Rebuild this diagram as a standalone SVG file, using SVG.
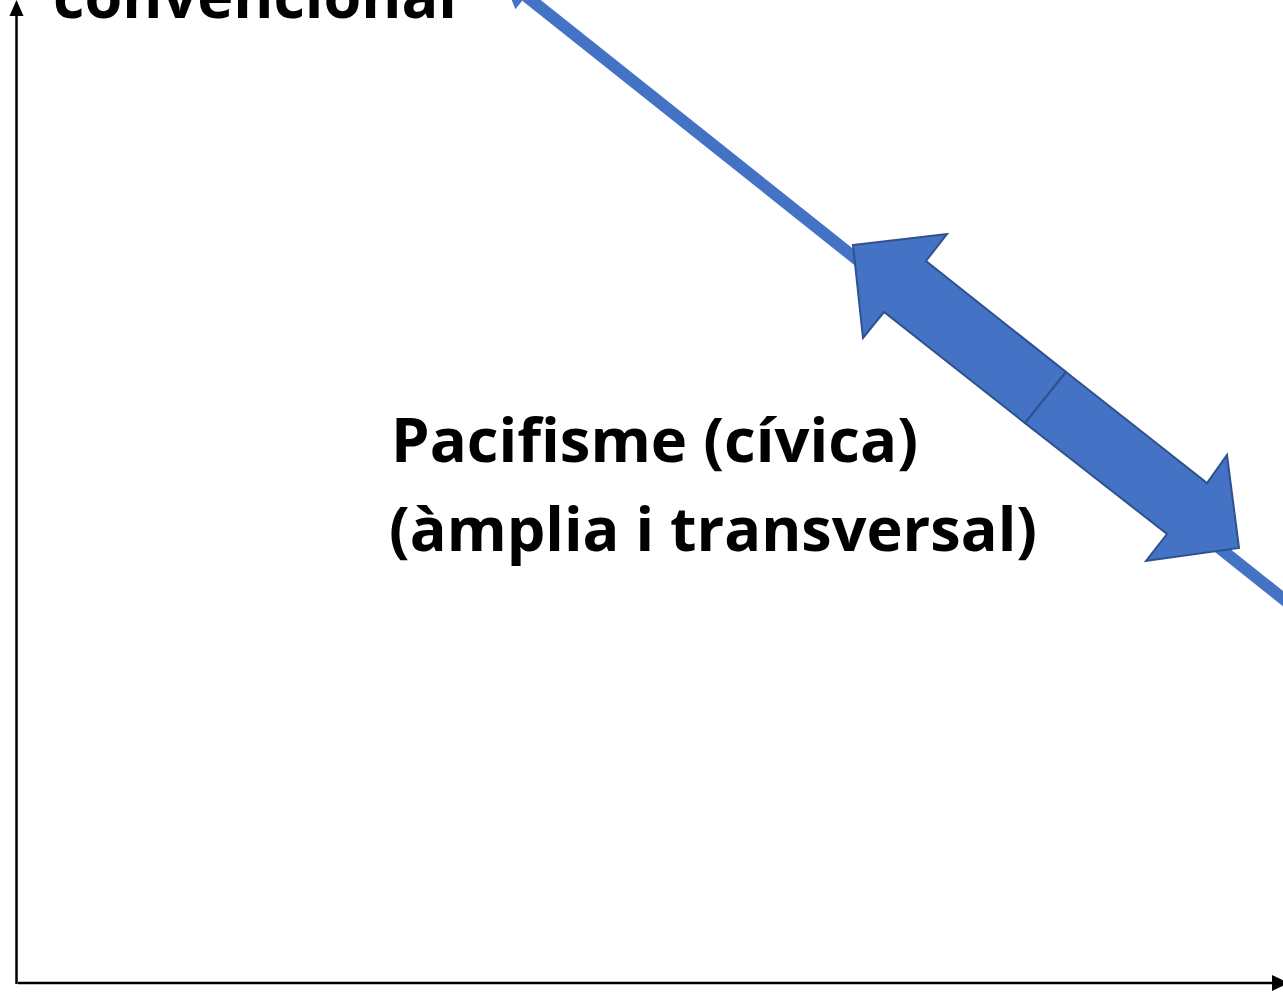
<svg xmlns="http://www.w3.org/2000/svg" width="1283" height="993" viewBox="0 0 1283 993">
<style>
.axis{stroke:#000;stroke-width:2.5;fill:none}
.head{fill:#000}
.blue{fill:#4472C4;stroke:#2F528F;stroke-width:2;stroke-linejoin:miter}
.thin{stroke:#4472C4;stroke-width:12;fill:none}
.lbl{font-family:"Open Sans","Liberation Sans",sans-serif;font-weight:700;font-size:61px;fill:#000}
</style>
<rect width="1283" height="993" fill="#fff"/>
<g id="connectors">
<g id="y-axis">
<line class="axis" x1="16.5" y1="984" x2="16.5" y2="14"/>
<polygon class="head" points="16.5,0 9.5,16 23.5,16"/>
</g>
<g id="x-axis">
<line class="axis" x1="18" y1="983" x2="1274" y2="983"/>
<polygon class="head" points="1289,983 1272,975 1272,991"/>
</g>
<g id="diagonal">
<line class="thin" x1="526" y1="-4" x2="1330" y2="636"/>
<polygon fill="#4472C4" points="502.6,-22.8 536.6,-17.3 515.4,9.3"/>
</g>
</g>
<g id="double-arrow">
<polygon class="blue" points="853,245 947,234 926,261 1066,372 1025,423 884,312 863,338"/>
<polygon class="blue" points="1066,372 1207,483 1227,455 1239,548 1146,561 1167,534 1025,423"/>
</g>
<g id="label-top">
<text class="lbl" x="53" y="18" textLength="404" lengthAdjust="spacingAndGlyphs">convencional</text>
</g>
<g id="label-center">
<text class="lbl" x="391" y="462" textLength="527" lengthAdjust="spacingAndGlyphs">Pacifisme (cívica)</text>
<text class="lbl" x="389" y="551" textLength="648" lengthAdjust="spacingAndGlyphs">(àmplia i transversal)</text>
</g>
</svg>
